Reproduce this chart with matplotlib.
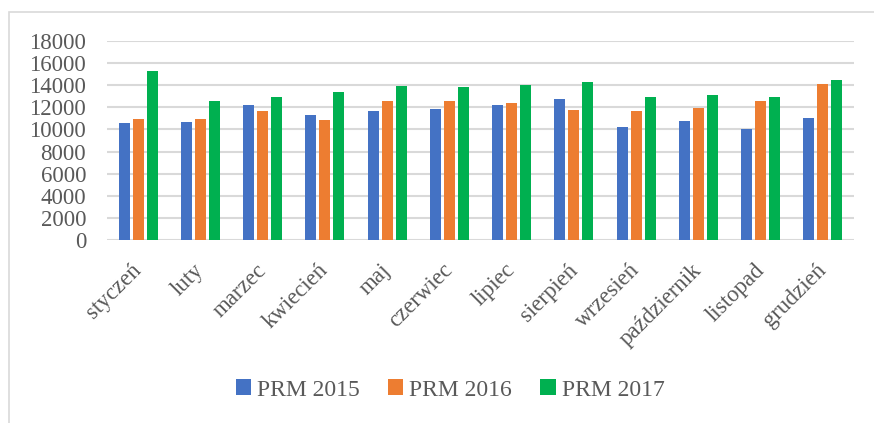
import matplotlib.pyplot as plt
import numpy as np
from matplotlib.patches import Rectangle
import matplotlib.transforms as mtransforms

months = ['styczeń', 'luty', 'marzec', 'kwiecień', 'maj', 'czerwiec',
          'lipiec', 'sierpień', 'wrzesień', 'październik', 'listopad', 'grudzień']
prm_2015 = [10600, 10650, 12250, 11300, 11650, 11850,
            12250, 12750, 10250, 10750, 10050, 11050]
prm_2016 = [10950, 10900, 11700, 10850, 12550, 12550,
            12350, 11750, 11700, 11900, 12550, 14100]
prm_2017 = [15300, 12550, 12950, 13400, 13900, 13850,
            14000, 14300, 12900, 13100, 12900, 14450]
series = ['PRM 2015', 'PRM 2016', 'PRM 2017']
colors = ['#4472C4', '#ED7D31', '#00B050']

plt.rcParams['font.family'] = ['Liberation Serif', 'DejaVu Serif']
text_color = '#595959'
grid_color = '#d9d9d9'

fig = plt.figure(figsize=(8.74, 4.23), dpi=100)
ax = fig.add_axes([107 / 874, 1 - 240 / 423, (854 - 107) / 874, (240 - 41) / 423])

x = np.arange(len(months))
width = 0.18
offset = 0.225
for i, (vals, name, c) in enumerate(zip([prm_2015, prm_2016, prm_2017], series, colors)):
    ax.bar(x + (i - 1) * offset, vals, width, color=c, label=name, zorder=3)

ax.set_xlim(-0.5, len(months) - 0.5)
ax.set_ylim(0, 18000)
ax.set_yticks(range(0, 18001, 2000))
ax.yaxis.grid(True, color=grid_color, linewidth=1.5, zorder=0)
for s in ax.spines.values():
    s.set_visible(False)
ax.tick_params(axis='both', length=0, colors=text_color, labelsize=16.5)
ax.tick_params(axis='y', pad=15)
ax.tick_params(axis='x', pad=12)
ax.set_xticks(x)
ax.set_xticklabels(months, rotation=45, ha='right', va='top', rotation_mode='anchor')
shift = mtransforms.ScaledTranslation(-7 / 100, -3 / 100, fig.dpi_scale_trans)
for lab in ax.get_xticklabels():
    lab.set_transform(lab.get_transform() + shift)

leg = fig.legend(loc='center', bbox_to_anchor=(450 / 874, 1 - 390 / 423), ncol=3,
                 frameon=False, fontsize=17, handlelength=0.65, handleheight=0.65,
                 handletextpad=0.25, columnspacing=1.2)
for t in leg.get_texts():
    t.set_color(text_color)

# outer chart frame (cropped on right and bottom)
fig.patches.append(Rectangle((9 / 874, -0.1), 1.2, 1 - 12 / 423 + 0.1,
                             transform=fig.transFigure, fill=False,
                             edgecolor=grid_color, linewidth=1.2))

fig.savefig('out.png', dpi=100)
